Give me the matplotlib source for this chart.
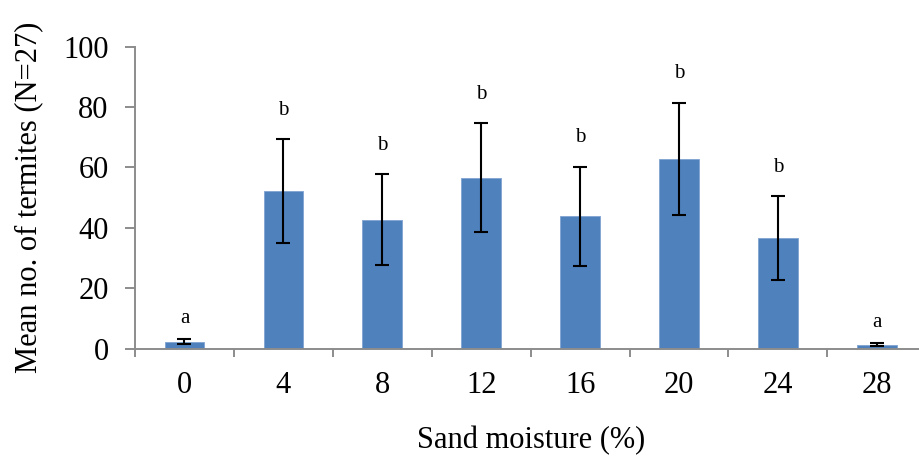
import matplotlib
matplotlib.use("Agg")
import matplotlib.pyplot as plt
import numpy as np

plt.rcParams['font.family'] = ['Liberation Serif', 'DejaVu Serif']

moisture = ["0", "4", "8", "12", "16", "20", "24", "28"]
mean_termites = [2.3, 52.1, 42.7, 56.6, 43.9, 62.8, 36.6, 1.2]
std_error = [0.7, 17.3, 15.1, 18.0, 16.4, 18.6, 13.8, 0.5]
groups = ["a", "b", "b", "b", "b", "b", "b", "a"]
y_ticks = [0, 20, 40, 60, 80, 100]

fig = plt.figure(figsize=(9.19, 4.57), dpi=100)
ax = fig.add_axes([0.1469, 0.2374, 0.861, 0.6604])

x = np.arange(len(moisture))
ax.bar(x, mean_termites, width=0.4, color="#4F81BD", edgecolor="#7FA3D1",
       linewidth=0.6, zorder=2)
ax.errorbar(x, mean_termites, yerr=std_error, fmt="none", ecolor="black",
            elinewidth=1.5, capsize=4.8, capthick=1.5, zorder=3)

for xi, m, e, g in zip(x, mean_termites, std_error, groups):
    ax.annotate(g, (xi, m + e), xytext=(0, 8 if g == "a" else 14),
                textcoords="offset points", ha="center", va="bottom",
                fontsize=15)

ax.set_xlim(-0.5, 7.5)
ax.set_ylim(0, 100)
ax.set_yticks(y_ticks)
ax.set_xticks(x)
ax.set_xticklabels(moisture)
ax.set_xticks(np.arange(-0.5, 8.0, 1.0), minor=True)

for s in ("top", "right"):
    ax.spines[s].set_visible(False)
for s in ("left", "bottom"):
    ax.spines[s].set_color("#8C8C8C")
    ax.spines[s].set_linewidth(1.4)

ax.tick_params(axis="y", direction="out", length=7, width=1.4, color="#8C8C8C",
               labelsize=22, pad=12)
ax.tick_params(axis="x", which="major", length=0, labelsize=22, pad=16)
ax.tick_params(axis="x", which="minor", direction="out", length=6, width=1.4,
               color="#8C8C8C")

ax.set_xlabel("Sand moisture (%)", fontsize=22, labelpad=19)
ax.set_ylabel("Mean no. of termites (N=27)", fontsize=22, labelpad=14)

fig.savefig("out.png", dpi=100)
